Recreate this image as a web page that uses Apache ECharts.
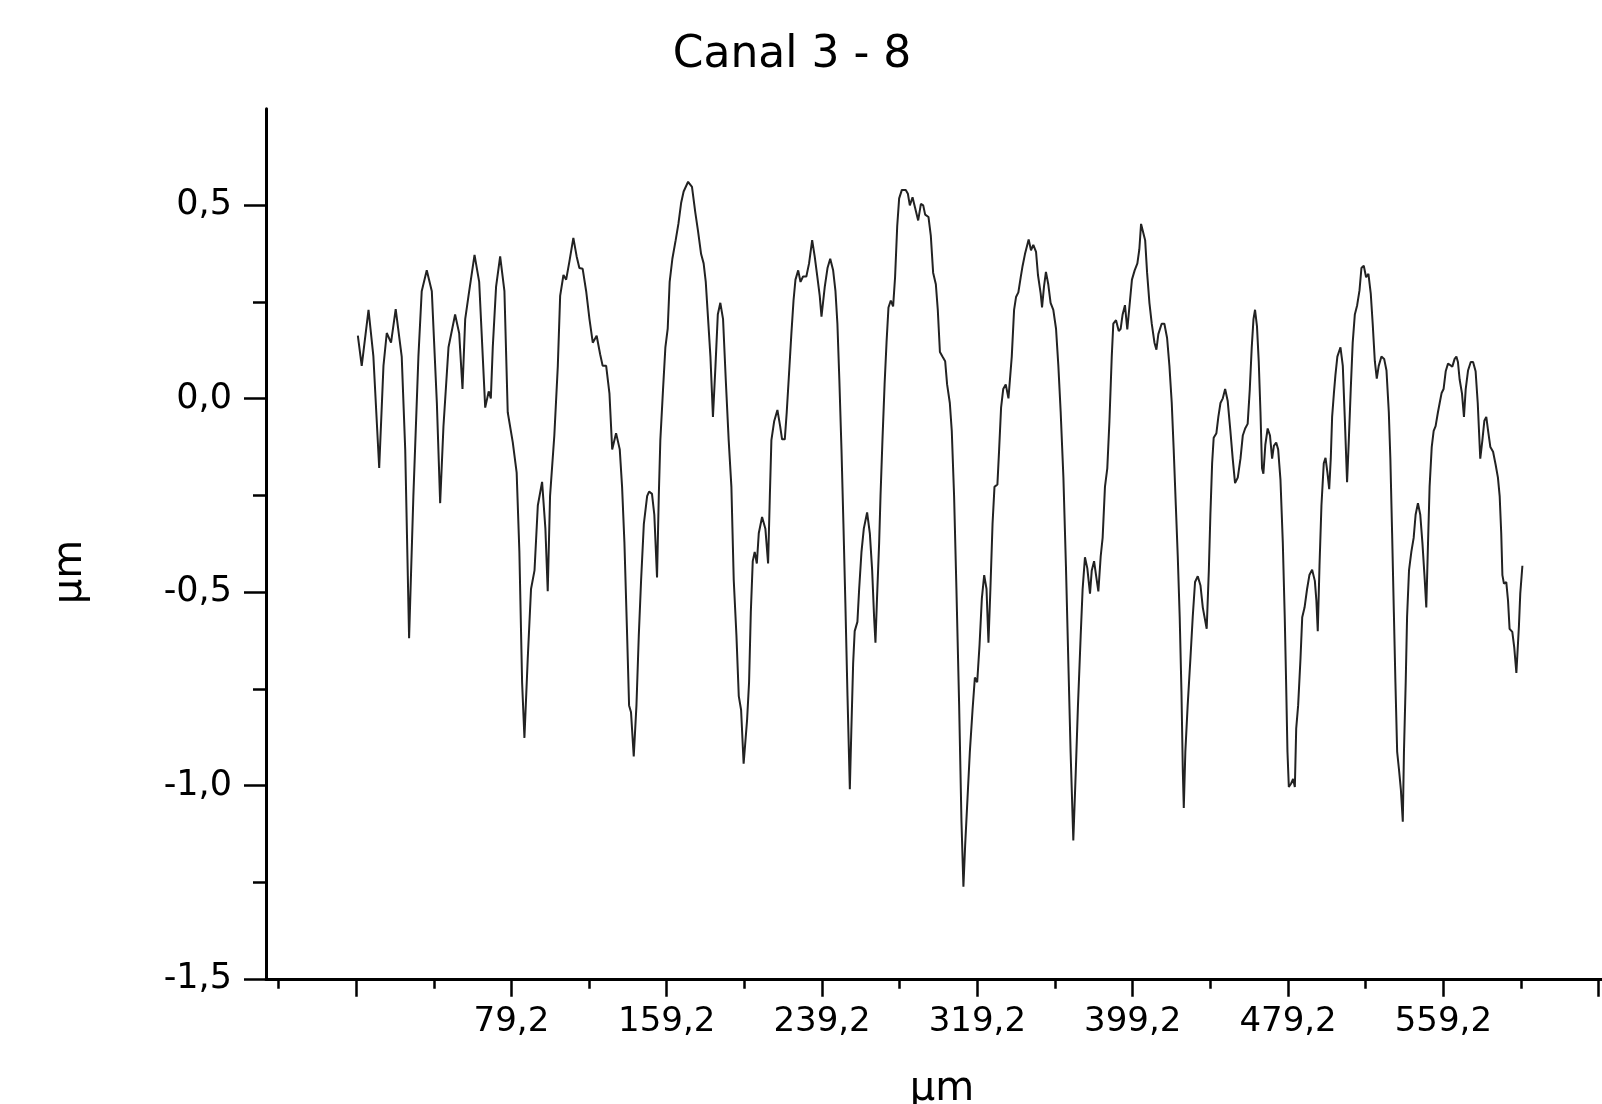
<!DOCTYPE html>
<html>
<head>
<meta charset="utf-8">
<script src="https://cdn.jsdelivr.net/npm/echarts@6/dist/echarts.min.js"></script>
<style>
html,body{margin:0;padding:0;background:#fff;}
#chart{width:1602px;height:1104px;}
</style>
</head>
<body>
<div id="chart"></div>
<script>
const titleText = 'Canal 3 - 8';
const xAxisName = 'µm';
const yAxisName = 'µm';

// profile position (µm)
const xValues = [
0.1,2.1,5.6,8.1,11.1,13.3,15.0,17.2,19.6,22.7,24.5,26.5,28.7,31.3,33.0,35.6,38.2,40.8,42.5,44.2,46.8,50.2,52.3,54.0,55.4,57.1,60.2,62.6,65.7,
67.5,68.6,69.6,71.3,73.4,75.6,77.3,79.9,81.9,83.3,84.7,85.9,87.6,89.3,91.1,92.8,95.0,96.7,97.9,99.1,101.3,103.1,104.3,106.0,107.4,109.1,111.1,112.8,114.2,115.9,117.7,119.4,121.1,123.1,124.9,126.2,128.0,129.7,131.1,133.1,
135.0,136.2,137.4,138.8,139.8,140.8,142.2,143.6,144.8,146.0,147.4,149.1,150.1,151.6,152.8,154.2,155.1,155.9,157.3,158.5,159.7,160.7,162.1,163.8,165.2,166.6,167.9,170.2,172.2,173.9,175.3,176.9,178.2,179.3,180.5,181.7,183.0,184.3,185.5,186.8,188.2,189.6,191.1,192.5,193.7,195.1,196.3,197.5,198.8,200.6,
201.6,202.5,203.5,204.5,205.6,206.6,208.3,210.0,211.4,212.3,213.1,214.5,216.2,217.6,218.6,220.0,221.0,222.0,223.4,224.5,225.5,226.9,228.1,229.4,231.1,232.5,234.1,235.4,236.8,238.0,238.9,240.6,242.0,243.4,244.9,246.1,247.1,248.1,249.2,250.2,251.2,252.3,253.5,254.3,255.2,256.0,257.4,258.3,259.5,260.7,262.4,263.8,265.0,266.0,266.7,267.5,268.6,
269.3,270.3,271.4,272.4,273.4,274.6,275.8,276.8,277.9,278.9,280.3,282.3,283.4,284.4,285.8,287.1,288.7,290.1,291.3,292.3,294.0,295.2,296.4,297.8,298.8,299.9,301.2,302.6,303.6,305.0,306.0,307.2,308.4,309.8,311.0,312.0,312.9,314.1,315.3,316.7,317.9,319.1,320.3,321.5,322.7,323.9,324.9,325.9,327.0,328.0,329.5,330.4,331.4,332.5,333.8,335.2,
336.0,336.9,338.1,339.1,340.3,341.5,342.5,343.7,345.6,346.8,348.0,349.4,350.4,351.8,352.5,353.5,354.5,355.7,356.9,358.3,359.7,360.9,362.1,363.5,364.8,366.0,367.2,368.6,369.8,371.0,372.4,373.4,374.6,375.8,377.2,378.1,379.3,380.3,381.5,382.7,383.7,384.9,386.1,387.2,388.4,389.2,390.6,392.0,393.0,394.0,395.2,396.4,397.8,398.8,400.2,401.6,402.6,403.5,
404.4,405.6,406.6,407.8,409.0,410.4,411.4,412.4,414.1,415.5,416.9,418.1,419.3,420.3,421.4,422.4,423.4,424.3,425.0,425.5,426.3,427.5,428.9,430.1,431.3,432.7,434.1,435.3,437.3,438.4,439.2,440.1,440.9,442.3,443.3,444.4,445.6,446.8,448.1,449.5,450.7,451.9,453.3,454.7,455.9,457.1,458.4,459.5,460.5,461.4,462.2,463.2,464.1,465.0,465.8,466.5,467.5,468.7,469.9,471.0,
471.9,473.1,474.1,475.3,476.5,477.5,478.2,478.9,479.6,480.8,481.8,482.7,483.4,484.4,485.6,486.5,487.7,489.0,490.2,491.6,493.0,493.8,494.5,495.4,496.4,497.6,498.5,499.5,500.4,501.2,501.9,502.8,503.6,504.6,506.2,507.4,508.4,509.6,510.5,511.5,512.5,513.6,514.8,516.0,517.0,518.2,519.4,520.6,521.8,522.8,523.9,524.9,525.9,527.3,528.7,529.9,531.1,531.9,532.8,533.7,534.5,535.4,536.4,537.3,538.3,
538.9,539.8,540.5,541.5,542.7,543.9,544.9,546.1,547.3,548.4,549.6,550.4,551.3,552.1,553.2,554.2,555.2,556.4,557.3,558.3,559.3,560.4,561.6,562.6,563.8,565.0,565.9,566.7,567.6,568.8,569.8,570.7,571.9,573.3,574.5,575.8,576.9,578.2,579.3,580.3,581.3,582.4,583.4,584.8,586.1,587.3,588.2,589.0,589.6,590.4,591.6,592.5,593.3,594.7,595.7,596.8,597.3,598.1,598.8,599.9
];

// profile height (µm)
const yValues = [
0.163,0.085,0.230,0.110,-0.179,0.085,0.170,0.145,0.232,0.109,-0.131,-0.619,-0.252,0.109,0.278,0.332,0.278,-0.011,-0.270,-0.071,0.133,0.218,0.169,0.025,0.206,0.266,0.372,0.302,-0.023,
0.019,0.001,0.133,0.290,0.368,0.278,-0.035,-0.113,-0.191,-0.396,-0.733,-0.877,-0.673,-0.492,-0.444,-0.276,-0.215,-0.336,-0.498,-0.252,-0.095,0.085,0.266,0.320,0.308,0.356,0.416,0.368,0.338,0.336,0.278,0.206,0.145,0.163,0.115,0.085,0.085,0.013,-0.131,-0.089,
-0.131,-0.228,-0.372,-0.613,-0.793,-0.811,-0.925,-0.793,-0.613,-0.468,-0.324,-0.252,-0.240,-0.246,-0.300,-0.462,-0.252,-0.107,0.025,0.133,0.181,0.302,0.362,0.410,0.452,0.506,0.536,0.561,0.548,0.482,0.434,0.374,0.350,0.302,0.206,0.109,-0.047,0.085,0.218,0.248,0.206,0.049,-0.107,-0.228,-0.468,-0.613,-0.769,-0.805,-0.944,-0.829,
-0.733,-0.553,-0.420,-0.396,-0.426,-0.348,-0.306,-0.336,-0.426,-0.252,-0.107,-0.059,-0.029,-0.071,-0.105,-0.105,-0.035,0.049,0.169,0.254,0.308,0.332,0.302,0.316,0.316,0.350,0.410,0.368,0.314,0.266,0.212,0.290,0.338,0.362,0.332,0.278,0.194,0.049,-0.131,-0.324,-0.528,-0.769,-1.010,-0.853,-0.685,-0.601,-0.577,-0.492,-0.396,-0.336,-0.294,-0.348,-0.444,-0.565,-0.631,-0.516,-0.372,
-0.252,-0.107,0.037,0.145,0.236,0.254,0.239,0.314,0.446,0.518,0.540,0.540,0.530,0.500,0.521,0.494,0.461,0.504,0.500,0.476,0.470,0.422,0.326,0.296,0.230,0.121,0.109,0.097,0.037,-0.011,-0.083,-0.252,-0.492,-0.793,-1.094,-1.262,-1.154,-1.034,-0.914,-0.805,-0.721,-0.733,-0.637,-0.516,-0.456,-0.492,-0.631,-0.492,-0.324,-0.228,-0.222,-0.131,-0.023,0.025,0.037,0.001,
0.001,0.109,0.230,0.263,0.275,0.314,0.344,0.374,0.412,0.384,0.398,0.380,0.320,0.272,0.236,0.290,0.328,0.296,0.248,0.230,0.181,0.085,-0.035,-0.204,-0.432,-0.673,-0.913,-1.142,-0.974,-0.793,-0.613,-0.492,-0.410,-0.438,-0.504,-0.444,-0.420,-0.456,-0.498,-0.408,-0.360,-0.228,-0.180,-0.059,0.109,0.194,0.203,0.175,0.181,0.218,0.242,0.179,0.254,0.308,0.332,0.350,0.386,0.452,
0.456,0.410,0.326,0.248,0.194,0.145,0.127,0.167,0.194,0.194,0.157,0.085,-0.011,-0.131,-0.276,-0.408,-0.565,-0.757,-0.962,-1.058,-0.913,-0.793,-0.673,-0.565,-0.474,-0.459,-0.483,-0.540,-0.595,-0.444,-0.300,-0.167,-0.101,-0.089,-0.047,-0.011,0.001,0.025,-0.005,-0.083,-0.155,-0.218,-0.204,-0.155,-0.095,-0.077,-0.065,0.025,0.133,0.206,0.230,0.187,0.097,-0.035,-0.180,-0.194,-0.119,-0.077,-0.095,-0.155,
-0.122,-0.113,-0.131,-0.210,-0.372,-0.565,-0.733,-0.913,-1.004,-0.995,-0.983,-1.004,-0.853,-0.793,-0.673,-0.565,-0.540,-0.492,-0.456,-0.442,-0.471,-0.522,-0.601,-0.432,-0.276,-0.167,-0.153,-0.192,-0.234,-0.155,-0.047,0.013,0.061,0.109,0.133,0.085,-0.047,-0.216,-0.107,0.025,0.145,0.218,0.242,0.280,0.338,0.344,0.314,0.323,0.272,0.194,0.097,0.052,0.085,0.109,0.103,0.073,-0.035,-0.155,-0.348,-0.553,-0.733,-0.913,-0.962,-1.010,-1.094,
-0.913,-0.733,-0.565,-0.444,-0.396,-0.360,-0.300,-0.270,-0.300,-0.372,-0.468,-0.540,-0.372,-0.228,-0.125,-0.083,-0.071,-0.035,-0.011,0.015,0.025,0.071,0.091,0.095,0.083,0.103,0.109,0.095,0.049,0.013,-0.047,0.025,0.073,0.095,0.095,0.071,-0.011,-0.155,-0.107,-0.057,-0.047,-0.089,-0.125,-0.137,-0.170,-0.204,-0.252,-0.348,-0.456,-0.478,-0.474,-0.522,-0.595,-0.603,-0.643,-0.709,-0.711,-0.589,-0.504,-0.432
];

// axis ticks
const xMajorTicks = [-0.8, 79.2, 159.2, 239.2, 319.2, 399.2, 479.2, 559.2, 639.2];
const xLabelTicks = [79.2, 159.2, 239.2, 319.2, 399.2, 479.2, 559.2];
const xMinorTicks = [-40.8, 39.2, 119.2, 199.2, 279.2, 359.2, 439.2, 519.2, 599.2];
const yMajorTicks = [-1.5, -1.0, -0.5, 0.0, 0.5];
const yMinorTicks = [-1.25, -0.75, -0.25, 0.25];
const xRange = [-47.2, 640.9];
const yRange = [-1.5, 0.75];

const FONT = '"DejaVu Sans", "Liberation Sans", Arial, sans-serif';
const fmt = v => v.toFixed(1).replace('.', ',');

const chart = echarts.init(document.getElementById('chart'), null, {renderer: 'canvas'});
const seriesData = xValues.map((x, i) => [x, yValues[i]]);

chart.setOption({
  animation: false,
  backgroundColor: '#ffffff',
  title: {
    text: titleText,
    left: 787,
    textAlign: 'center',
    top: 29,
    textStyle: {fontFamily: FONT, fontSize: 44, fontWeight: 'normal', color: '#000'}
  },
  grid: {left: 266, right: 0, top: 108.7, bottom: 125.2},
  xAxis: [
    {
      type: 'value', min: xRange[0], max: xRange[1],
      axisLine: {show: true, onZero: false, lineStyle: {color: '#000', width: 3}},
      axisTick: {show: true, customValues: xMajorTicks, length: 18, lineStyle: {color: '#000', width: 2.5}},
      axisLabel: {show: true, customValues: xLabelTicks, formatter: fmt, margin: 26,
        fontFamily: FONT, fontSize: 34, color: '#000'},
      splitLine: {show: false}
    },
    {
      type: 'value', min: xRange[0], max: xRange[1], position: 'bottom',
      axisLine: {show: false, onZero: false},
      axisTick: {show: true, customValues: xMinorTicks, length: 10, lineStyle: {color: '#000', width: 2.5}},
      axisLabel: {show: false},
      splitLine: {show: false}
    }
  ],
  yAxis: [
    {
      type: 'value', min: yRange[0], max: yRange[1],
      axisLine: {show: true, onZero: false, lineStyle: {color: '#000', width: 3}},
      axisTick: {show: true, customValues: yMajorTicks, length: 22, lineStyle: {color: '#000', width: 2.5}},
      axisLabel: {show: true, customValues: yMajorTicks, formatter: fmt, margin: 34,
        fontFamily: FONT, fontSize: 35, color: '#000'},
      splitLine: {show: false}
    },
    {
      type: 'value', min: yRange[0], max: yRange[1], position: 'left',
      axisLine: {show: false, onZero: false},
      axisTick: {show: true, customValues: yMinorTicks, length: 13, lineStyle: {color: '#000', width: 2.5}},
      axisLabel: {show: false},
      splitLine: {show: false}
    }
  ],
  graphic: [
    {type: 'text', x: 942, y: 1090, style: {text: xAxisName, font: '40px ' + FONT, fill: '#000', align: 'center', verticalAlign: 'middle', textAlign: 'center', textVerticalAlign: 'middle'}},
    {type: 'text', x: 71, y: 572, rotation: Math.PI / 2, style: {text: yAxisName, font: '40px ' + FONT, fill: '#000', align: 'center', verticalAlign: 'middle', textAlign: 'center', textVerticalAlign: 'middle'}}
  ],
  series: [
    {
      type: 'line',
      xAxisIndex: 0, yAxisIndex: 0,
      data: seriesData,
      showSymbol: false,
      smooth: false,
      lineStyle: {color: '#222', width: 2},
      silent: true
    }
  ]
});
</script>
</body>
</html>
